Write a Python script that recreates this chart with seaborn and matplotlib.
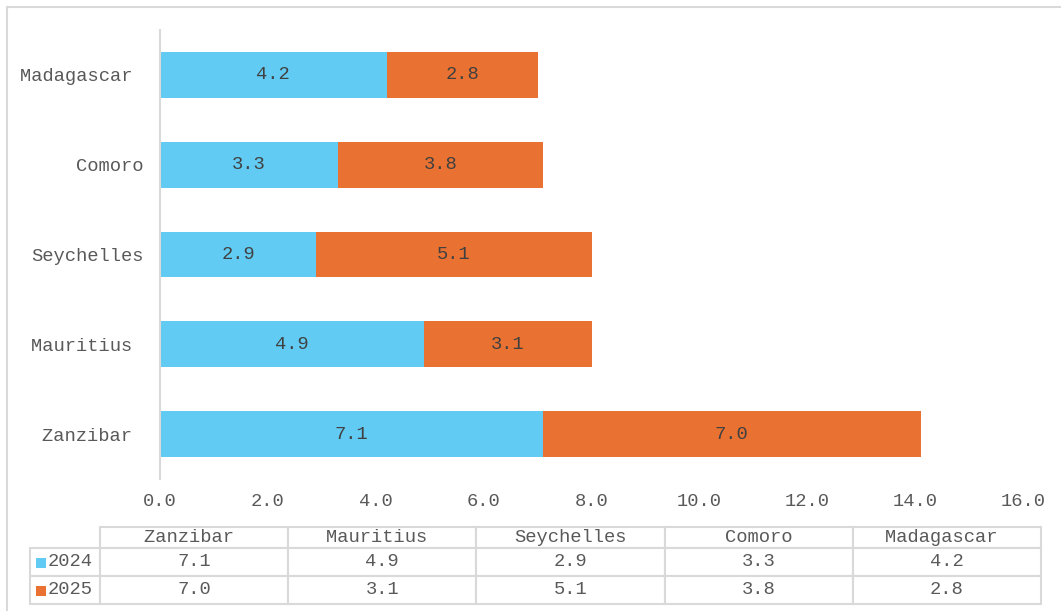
import numpy as np
import pandas as pd
import seaborn as sns
import matplotlib.pyplot as plt
from matplotlib.table import Table
from matplotlib.patches import Rectangle
from matplotlib.lines import Line2D

# data (table order, bottom bar first); trailing spaces are in the source labels
countries = ["Zanzibar ", "Mauritius ", "Seychelles", "Comoro", "Madagascar "]
v2024 = [7.1, 4.9, 2.9, 3.3, 4.2]
v2025 = [7.0, 3.1, 5.1, 3.8, 2.8]
years = ["2024", "2025"]

blue = "#61CBF3"
orange = "#E97132"
txt = "#595959"
grid = "#d9d9d9"

sns.set_style("white")
plt.rcParams["font.family"] = ["Liberation Mono", "DejaVu Sans"]
plt.rcParams["font.size"] = 13.5

df = pd.DataFrame({"country": countries, "2024": v2024, "2025": v2025})
order = countries[::-1]  # Madagascar on top
d = df.set_index("country").loc[order]

W, H = 1061, 611
fx = lambda px: px / W
fy = lambda py: 1 - py / H

fig = plt.figure(figsize=(W / 100, H / 100), dpi=100)
ax = fig.add_axes([fx(160), fy(479), fx(1023) - fx(160), (479 - 30) / H])

# stacked bars: seaborn for 2024, second segment on top of it
sns.barplot(data=df, y="country", x="2024", order=order, orient="h",
            color=blue, saturation=1, width=0.51, linewidth=0, ax=ax)
ax.barh(np.arange(len(order)), d["2025"], left=d["2024"], height=0.51,
        color=orange, linewidth=0)

for c in ax.containers:
    ax.bar_label(c, fmt="%.1f", label_type="center", color="#404040",
                 fontsize=13.5)

ax.set_xlim(0, 16)
ax.set_ylim(4.5, -0.5)
ax.set_xticks(np.arange(0, 17, 2))
ax.xaxis.set_major_formatter("{x:.1f}")
ax.set_xlabel("")
ax.set_ylabel("")
ax.tick_params(axis="x", length=0, pad=10, colors=txt, labelsize=13.5)
ax.tick_params(axis="y", length=0, pad=12, colors=txt, labelsize=13.5)
for s in ["top", "right", "bottom"]:
    ax.spines[s].set_visible(False)
ax.spines["left"].set_color(grid)
ax.spines["left"].set_linewidth(1.5)

# data table under the chart
tax = fig.add_axes([fx(30), fy(604), fx(1041) - fx(30), (604 - 527) / H])
tax.axis("off")
tbl = Table(tax, bbox=[0, 0, 1, 1])
for j, c in enumerate(countries):
    tbl.add_cell(0, j + 1, width=188, height=21, text=c, loc="center")
for i, (yr, vals) in enumerate(zip(years, [v2024, v2025])):
    tbl.add_cell(i + 1, 0, width=70, height=28.5, text=yr, loc="right")
    for j, v in enumerate(vals):
        tbl.add_cell(i + 1, j + 1, width=188, height=28.5,
                     text=f"{v:.1f}", loc="center")
tbl.auto_set_font_size(False)
tbl.set_fontsize(13.5)
for cell in tbl.get_celld().values():
    cell.set_edgecolor(grid)
    cell.set_linewidth(1.5)
    cell.get_text().set_color(txt)
tax.add_table(tbl)

# legend keys in the table row labels
for yc, col in [(562.5, blue), (590.5, orange)]:
    fig.add_artist(Rectangle((fx(36), fy(yc + 5)), 10 / W, 10 / H,
                             transform=fig.transFigure, color=col, lw=0))

# chart area border
fig.add_artist(Line2D([fx(7), 1], [fy(6.5), fy(6.5)], transform=fig.transFigure,
                      color=grid, lw=1.5))
fig.add_artist(Line2D([fx(7), fx(7)], [0, fy(6.5)], transform=fig.transFigure,
                      color=grid, lw=1.5))

fig.savefig("out.png", dpi=100)
